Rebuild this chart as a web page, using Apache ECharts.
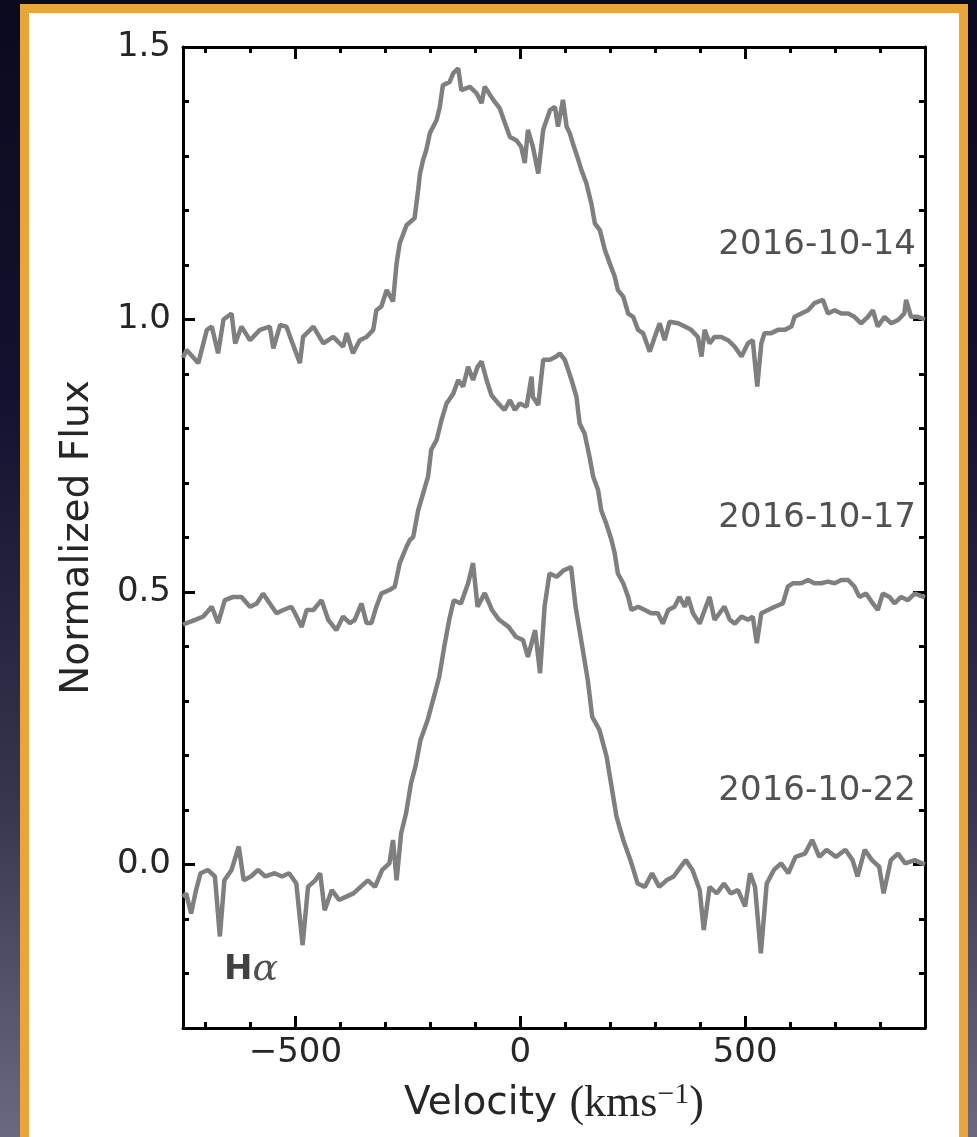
<!DOCTYPE html>
<html><head><meta charset="utf-8">
<script src="https://cdn.jsdelivr.net/npm/echarts@6/dist/echarts.min.js"></script>
<style>
html,body{margin:0;padding:0;width:977px;height:1137px;overflow:hidden;}
body{background:linear-gradient(180deg,#0a0a1e 0%,#121230 35%,#35354f 70%,#6a6982 100%);position:relative;}
#frame{position:absolute;left:20px;top:4px;width:930px;height:1150px;border:9px solid #e8a53a;background:#fff;}
#chart{position:absolute;left:0;top:0;width:977px;height:1137px;}
</style></head>
<body>
<div id="frame"></div>
<div id="chart"></div>
<script>
// ---- data (velocity in km/s, normalized flux) ----
const vel1 = [-750,-742,-716,-697,-686,-672,-660,-642,-634,-620,-601,-579,-557,-549,-534,-520,-509,-490,-483,-460,-438,-416,-394,-386,-372,-357,-342,-327,-320,-309,-297,-283,-275,-268,-253,-235,-227,-223,-216,-209,-201,-186,-179,-172,-157,-149,-138,-131,-112,-97,-86,-79,-60,-46,-34,-23,-9,2,10,17,28,40,51,
66,77,84,95,103,110,117,129,136,147,158,166,177,188,199,210,217,229,240,251,262,273,288,299,310,321,332,351,366,380,395,403,410,421,432,447,462,477,492,506,517,527,536,543,558,573,588,603,610,625,640,654,673,684,699,714,729,743,758,773,784,795,810,825,840,854,858,869,884,900];
const flux1 = [0.93,0.944,0.920,0.981,0.987,0.938,1.000,1.011,0.956,0.987,0.962,0.981,0.987,0.947,0.990,0.987,0.962,0.920,0.968,0.987,0.956,0.968,0.950,0.975,0.938,0.962,0.968,0.981,1.017,1.024,1.054,1.033,1.103,1.140,1.173,1.186,1.238,1.268,1.293,1.311,1.342,1.366,1.390,1.430,1.436,1.452,1.461,1.421,1.427,1.415,1.397,1.427,1.403,1.388,1.360,1.335,1.329,1.317,1.287,1.348,1.317,1.268,1.348,
1.384,1.39,1.354,1.403,1.354,1.342,1.323,1.293,1.274,1.25,1.213,1.176,1.164,1.128,1.103,1.079,1.054,1.042,1.011,1.005,0.981,0.975,0.941,0.968,0.993,0.962,0.996,0.993,0.987,0.981,0.968,0.932,0.981,0.956,0.968,0.968,0.962,0.95,0.932,0.956,0.962,0.877,0.956,0.975,0.975,0.981,0.981,0.987,1.005,1.011,1.017,1.03,1.036,1.011,1.017,1.011,1.011,1.005,0.993,1.005,1.017,0.987,1.005,0.993,0.999,1.011,1.036,1.005,1.005,1.0];

const vel2 = [-750,-742,-723,-705,-686,-672,-657,-638,-620,-601,-586,-572,-557,-542,-527,-509,-501,-486,-475,-460,-442,-427,-409,-394,-379,-368,-353,-342,-331,-320,-309,-290,-279,-268,-253,-246,-238,-227,-216,-205,-198,-186,-175,-164,-149,-138,-127,-116,-105,-95,-86,-75,-64,-49,-35,-23,-12,-1,14,25,28,40,51,66,80,
88,99,114,125,132,143,154,162,173,180,191,203,210,217,229,240,247,262,277,291,306,317,329,343,354,366,373,384,399,410,421,432,443,454,466,477,492,506,517,526,536,551,566,584,595,606,625,640,654,669,684,699,714,729,743,754,769,784,795,806,821,832,847,862,877,900];
const flux2 = [0.44,0.443,0.449,0.455,0.473,0.443,0.485,0.491,0.491,0.473,0.479,0.497,0.479,0.461,0.467,0.473,0.461,0.436,0.467,0.467,0.485,0.449,0.430,0.455,0.443,0.449,0.479,0.443,0.443,0.473,0.497,0.504,0.510,0.553,0.583,0.595,0.601,0.650,0.681,0.712,0.761,0.779,0.816,0.846,0.864,0.889,0.877,0.913,0.889,0.913,0.923,0.889,0.861,0.846,0.834,0.852,0.834,0.846,0.840,0.895,0.858,0.843,0.926,0.926,0.932,
0.938,0.926,0.889,0.858,0.809,0.791,0.748,0.712,0.687,0.650,0.626,0.595,0.571,0.534,0.516,0.491,0.467,0.473,0.467,0.461,0.461,0.442,0.467,0.473,0.491,0.473,0.491,0.461,0.442,0.467,0.491,0.449,0.461,0.473,0.449,0.442,0.455,0.449,0.455,0.406,0.461,0.467,0.473,0.479,0.510,0.516,0.516,0.522,0.516,0.516,0.519,0.516,0.522,0.522,0.510,0.491,0.497,0.479,0.467,0.497,0.491,0.479,0.491,0.485,0.497,0.49];

const vel3 = [-750,-743,-732,-721,-711,-695,-679,-668,-658,-642,-626,-615,-599,-583,-567,-546,-530,-514,-498,-484,-472,-456,-445,-435,-419,-403,-387,-371,-355,-339,-323,-307,-291,-283,-275,-265,-254,-243,-233,-222,-206,-190,-180,-169,-158,-148,-132,-116,-105,-95,-79,-63,-47,-26,-10,6,17,33,44,54,65,81,97,113,123,139,150,160,176,192,203,214,229,245,261,277,293,309,325,341,357,368,383,399,408,421,437,453,468,484,500,511,522,535,548,564,580,596,612,633,649,665,681,702,723,739,750,766,782,798,808,824,840,856,877,893,900];
const flux3 = [-0.06,-0.053,-0.090,-0.047,-0.016,-0.010,-0.022,-0.132,-0.029,-0.010,0.033,-0.029,-0.022,-0.010,-0.022,-0.016,-0.022,-0.016,-0.035,-0.148,-0.041,-0.029,-0.016,-0.084,-0.047,-0.065,-0.059,-0.053,-0.041,-0.029,-0.041,-0.010,0.002,0.045,-0.029,0.057,0.094,0.149,0.180,0.228,0.265,0.314,0.345,0.400,0.449,0.485,0.479,0.516,0.553,0.473,0.498,0.467,0.449,0.436,0.418,0.412,0.381,0.430,0.351,0.473,0.534,0.528,0.540,0.546,0.473,0.394,0.339,0.271,0.247,0.198,0.143,0.088,0.045,0.008,-0.035,-0.041,-0.016,-0.041,-0.029,-0.022,-0.004,0.008,-0.010,-0.047,-0.120,-0.041,-0.053,-0.035,-0.053,-0.047,-0.077,-0.016,-0.041,-0.163,-0.035,-0.010,0.002,-0.016,0.014,0.020,0.045,0.014,0.027,0.014,0.027,0.008,-0.022,0.027,0.008,-0.004,-0.053,0.008,0.020,0.002,0.008,0.002,0.0];

const dateLabels = ['2016-10-14','2016-10-17','2016-10-22'];
const dateLabelX = [881,881,881];
const dateLabelY = [1.137,0.635,0.135];
const lineLabelPos = [-660,-0.194];

const xMajor = [-500,0,500];
const xMinor = [-700,-600,-400,-300,-200,-100,100,200,300,400,600,700,800];
const yMajor = [0,0.5,1.0,1.5];
const yMinor = [-0.2,-0.1,0.1,0.2,0.3,0.4,0.6,0.7,0.8,0.9,1.1,1.2,1.3,1.4];
const xRange = [-750,900];
const yRange = [-0.3,1.5];

// ---- chart ----
const FONT = 'DejaVu Sans';
const TXT = '#262626';
const zip = (a,b) => a.map((v,i)=>[v,b[i]]);
const axLine = {show:true,onZero:false,lineStyle:{color:'#000',width:3}};
function xAx(pos, major, withLabel){
  return {type:'value',position:pos,min:xRange[0],max:xRange[1],
    axisLine: major?axLine:{show:false,onZero:false},
    axisTick:{show:true,inside:true,length:major?12:6,customValues:major?xMajor:xMinor,lineStyle:{color:'#000',width:3}},
    axisLabel: withLabel?{show:true,customValues:xMajor,margin:8,fontSize:34,color:TXT,fontFamily:FONT,
      formatter:v=> v<0?'\u2212'+Math.abs(v):String(v)}:{show:false},
    splitLine:{show:false}};
}
function yAx(pos, major, withLabel){
  return {type:'value',position:pos,min:yRange[0],max:yRange[1],
    axisLine: major?axLine:{show:false,onZero:false},
    axisTick:{show:true,inside:true,length:major?12:6,customValues:major?yMajor:yMinor,lineStyle:{color:'#000',width:3}},
    axisLabel: withLabel?{show:true,customValues:yMajor,margin:12,fontSize:34,color:TXT,fontFamily:FONT,
      formatter:v=>v.toFixed(1)}:{show:false},
    splitLine:{show:false}};
}
const xAxes = [xAx('bottom',true,true), xAx('bottom',false,false), xAx('top',true,false), xAx('top',false,false)];
xAxes[0].name = '{a|Velocity }{b|(kms}{c|\u22121}{b|)}';
xAxes[0].nameLocation = 'middle';
xAxes[0].nameGap = 52;
xAxes[0].nameTextStyle = {rich:{
  a:{fontSize:39,fontFamily:FONT,color:TXT,lineHeight:48},
  b:{fontSize:44,fontFamily:'Liberation Serif',color:TXT,lineHeight:48},
  c:{fontSize:30,fontFamily:'Liberation Serif',color:TXT,lineHeight:26,verticalAlign:'top'}
}};
const yAxes = [yAx('left',true,true), yAx('left',false,false), yAx('right',true,false), yAx('right',false,false)];
yAxes[0].name = 'Normalized Flux';
yAxes[0].nameLocation = 'middle';
yAxes[0].nameGap = 86;
yAxes[0].nameTextStyle = {fontSize:39,fontFamily:FONT,color:TXT};

const lineStyle = {color:'#7f7f7f',width:4.5};
const mk = (name,v,f)=>({name,type:'line',data:zip(v,f),showSymbol:false,symbol:'none',lineStyle,xAxisIndex:0,yAxisIndex:0,animation:false,z:2});

const labelData = dateLabels.map((t,i)=>({name:t,value:[dateLabelX[i],dateLabelY[i]]}));

const option = {
  animation:false,
  grid:{left:183,right:52,top:47,bottom:109,containLabel:false,outerBoundsMode:'none'},
  xAxis:xAxes, yAxis:yAxes,
  series:[
    mk('2016-10-14',vel1,flux1),
    mk('2016-10-17',vel2,flux2),
    mk('2016-10-22',vel3,flux3),
    {type:'scatter',data:labelData,symbolSize:1,itemStyle:{color:'rgba(0,0,0,0)'},silent:true,
      label:{show:true,position:'left',distance:0,formatter:p=>p.name,fontSize:34,fontFamily:FONT,color:TXT}},
    {type:'scatter',data:[{name:'Hα',value:lineLabelPos}],symbolSize:1,itemStyle:{color:'rgba(0,0,0,0)'},silent:true,
      label:{show:true,position:'right',distance:0,formatter:'{h|H}{g|α}',
        rich:{h:{fontSize:34,fontWeight:'bold',fontFamily:FONT,color:'#111'},g:{fontSize:38,fontStyle:'italic',fontFamily:'DejaVu Serif',color:TXT}}}}
  ]
};
const chart = echarts.init(document.getElementById('chart'),null,{renderer:'canvas'});
chart.setOption(option);
</script>
</body></html>
